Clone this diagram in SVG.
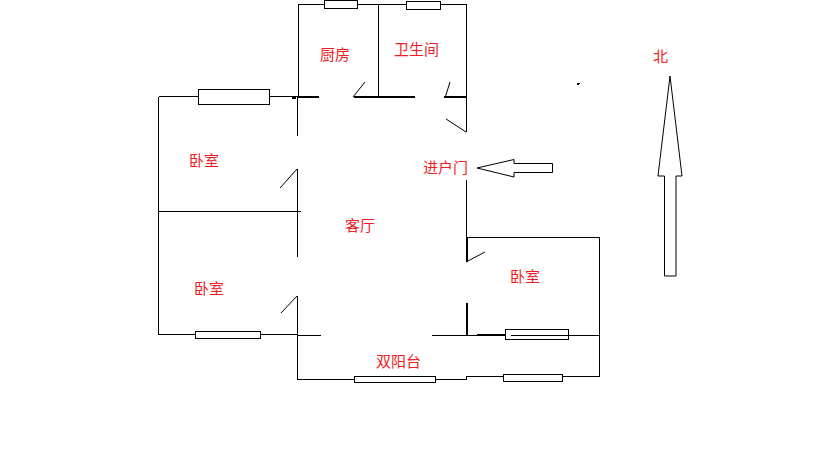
<svg xmlns="http://www.w3.org/2000/svg" width="819" height="460" viewBox="0 0 819 460">
<style>
.w{fill:none;stroke:#000;stroke-width:1;shape-rendering:crispEdges}
.t{fill:none;stroke:#000;stroke-width:2;shape-rendering:crispEdges}
.d{fill:none;stroke:#000;stroke-width:1}
.win{fill:#fff;stroke:#000;stroke-width:1;shape-rendering:crispEdges}
.a{fill:#fff;stroke:#000;stroke-width:1}
text{font-family:"Noto Sans CJK SC","Liberation Sans",sans-serif;font-size:15px;fill:#f01c24}
</style>
<rect width="819" height="460" fill="#fff"/>
<g id="walls">
<path class="w" d="M298.500 97V4.500H466.500V132M378.500 4.500V97M158.500 96.500H298M158.500 96.500V334.500H297.500M158.500 211.500H301M297.500 97V136M297.500 169V257M297.500 296V379.500H466.500V376.500H599.500V237.500H466.500M297.500 335.500H321M432 335.500H600M599.500 237.500V377M466.500 180V262M495 334.500H511"/>
<path class="t" d="M298 97H319M354 97H415M444 97H466M467 237V262M467 303V335M477 335H495"/>
<path d="M292 97h4v2h-4z" fill="#000"/>
<path class="d" d="M353 97L365 82M445 98L450 82M446 119L466 132M297 169L280 188M297 296L281 313M466 262L485 252"/>
<path d="M577 83h3v1h-1v1h-2z" fill="#000"/>
</g>
<g id="windows">
<rect class="win" x="324.500" y="0.500" width="33" height="8"/>
<rect class="win" x="406.500" y="1.500" width="34" height="8"/>
<rect class="win" x="198.500" y="89.500" width="71" height="15"/>
<rect class="win" x="195.500" y="331.500" width="65" height="7"/>
<rect class="win" x="354.500" y="376.500" width="81" height="6"/>
<rect class="win" x="503.500" y="374.500" width="59" height="7"/>
<rect class="win" x="505.500" y="329.500" width="63" height="10"/>
<path class="w" d="M511 335.500H568"/>
</g>
<g id="arrows">
<path class="a" d="M477 168L514 159.500V163.500H552.500V172.500H514V177Z"/>
<path class="a" d="M670 76L682 176H676V276H664.500V176H658Z"/>
</g>
<g id="labels">
<text x="320" y="60">厨房</text>
<text x="394" y="55">卫生间</text>
<text x="189" y="166">卧室</text>
<text x="194" y="294">卧室</text>
<text x="510" y="282">卧室</text>
<text x="423" y="173">进户门</text>
<text x="345" y="231">客厅</text>
<text x="376" y="367">双阳台</text>
<text x="653" y="62">北</text>
</g>
</svg>
